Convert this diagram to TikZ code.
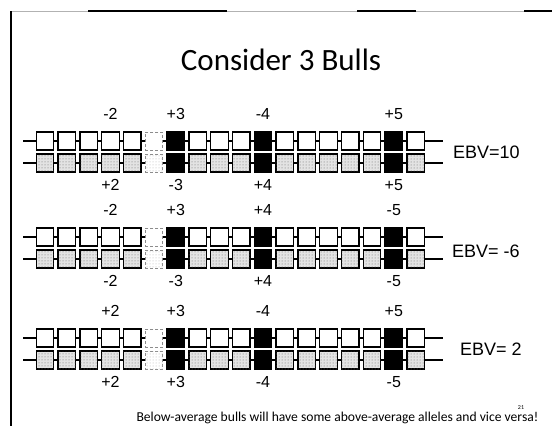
\documentclass[tikz,border=0pt]{standalone}
\usepackage{fontspec}
\setmainfont{Liberation Sans}
\newfontfamily\slidefont{Carlito}
\usetikzlibrary{patterns, positioning}
\tikzset{
    locus/.style={minimum width=17.5pt, minimum height=18pt, inner sep=0pt, line width=1.3pt},
    wbox/.style={locus, draw=black, fill=white},
    dbox/.style={locus, draw=black, fill=gray!22, postaction={pattern=dots, pattern color=gray!80!black}},
    kbox/.style={locus, draw=black, fill=black},
    fbox/.style={locus, draw=gray!90, densely dashed, line width=1pt, fill=white},
    fdbox/.style={locus, draw=gray!90, densely dashed, line width=1pt, fill=white, postaction={pattern=dots, pattern color=gray!60}},
    strand/.style={line width=1.3pt},
    allele/.style={font=\fontsize{16}{19}\selectfont, inner sep=0pt, outer sep=0pt},
    ebv/.style={font=\fontsize{18}{21}\selectfont, anchor=west, inner sep=0pt}
}

\begin{document}
\begin{tikzpicture}[x=1pt, y=-1pt]
    \useasboundingbox (0,0) rectangle (552,426);

    % slide frame
    \draw[gray!60, line width=1pt] (11,11) -- (552,11);
    \draw[line width=1.2pt] (88,11) -- (227,11) (357,11) -- (416,11) (524,11) -- (552,11);
    \draw[line width=1.2pt] (11,11) -- (11,426);

    \node[font=\slidefont\fontsize{31}{36}\selectfont, anchor=base] (title) at (281,70) {Consider 3 Bulls};

    % Chromosome pairs
    \foreach \k/\y in {1/141, 2/237, 3/338}{
        \foreach \i/\ts/\bs in {0/wbox/dbox, 1/wbox/dbox, 2/wbox/dbox, 3/wbox/dbox, 4/wbox/dbox, 5/fbox/fdbox,
                                6/kbox/kbox, 7/wbox/dbox, 8/wbox/dbox, 9/wbox/dbox, 10/kbox/kbox, 11/wbox/dbox,
                                12/wbox/dbox, 13/wbox/dbox, 14/wbox/dbox, 15/wbox/dbox, 16/kbox/kbox, 17/wbox/dbox}{
            \node[\ts] (t\k-\i) at (45+21.8*\i, \y) {};
            \node[\bs] (b\k-\i) at (45+21.8*\i, \y+22) {};
        }
        \coordinate (tl\k) at (23, \y);
        \coordinate (tr\k) at (443, \y);
        \coordinate (bl\k) at (23, \y+22);
        \coordinate (br\k) at (443, \y+22);
        \draw[strand] (tl\k) -- (t\k-0);
        \draw[strand] (bl\k) -- (b\k-0);
        \foreach \i [count=\j from 1] in {0,...,16}{
            \draw[strand] (t\k-\i) -- (t\k-\j);
            \draw[strand] (b\k-\i) -- (b\k-\j);
        }
        \draw[strand] (t\k-17) -- (tr\k);
        \draw[strand] (b\k-17) -- (br\k);
    }

    % Allele values
    \foreach \k/\a/\b/\c/\d/\e/\f/\g/\h in {1/-2/+3/-4/+5/+2/-3/+4/+5,
                                         2/-2/+3/+4/-5/-2/-3/+4/-5,
                                         3/+2/+3/-4/+5/+2/+3/-4/-5}{
        \node[allele, above=12pt of t\k-3] (a\k-3) {\a};
        \node[allele, above=12pt of t\k-6] (a\k-6) {\b};
        \node[allele, above=12pt of t\k-10] (a\k-10) {\c};
        \node[allele, above=12pt of t\k-16] (a\k-16) {\d};
        \node[allele, below=7pt of b\k-3] (z\k-3) {\e};
        \node[allele, below=7pt of b\k-6] (z\k-6) {\f};
        \node[allele, below=7pt of b\k-10] (z\k-10) {\g};
        \node[allele, below=7pt of b\k-16] (z\k-16) {\h};
    }

    \node[ebv] (ebv1) at (453,152) {EBV=10};
    \node[ebv] (ebv2) at (452,251) {EBV= -6};
    \node[ebv] (ebv3) at (460,349) {EBV= 2};

    \node[font=\slidefont\fontsize{13.6}{16}\selectfont, anchor=base west] (note) at (133,421) {Below-average bulls will have some above-average alleles and vice versa!};
    \node[font=\slidefont\fontsize{6}{7}\selectfont] (num) at (521,408) {21};
\end{tikzpicture}
\end{document}
